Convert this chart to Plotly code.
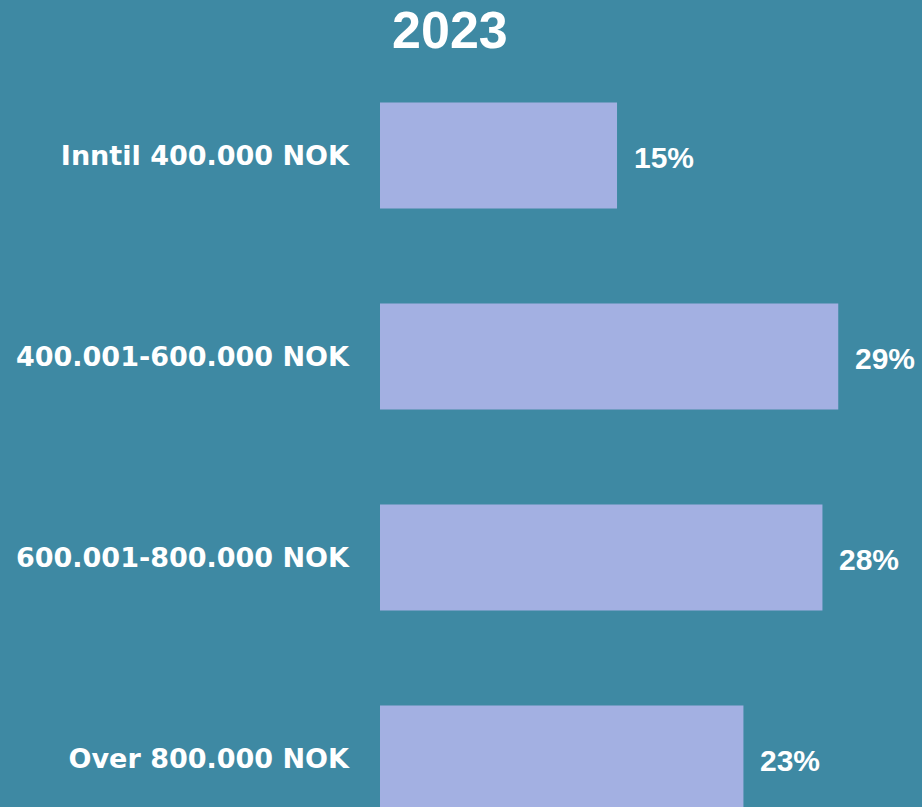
import plotly.graph_objects as go

# Income groups and share of respondents (2023)
categories = ["Inntil 400.000 NOK", "400.001-600.000 NOK",
              "600.001-800.000 NOK", "Over 800.000 NOK"]
shares = [15, 29, 28, 23]
labels = ["15%", "29%", "28%", "23%"]

BG = "#3E89A3"
BAR = "#A3B0E2"

fig = go.Figure()

fig.add_trace(go.Bar(
    x=shares,
    y=categories,
    orientation="h",
    marker=dict(color=BAR, line=dict(width=0)),
    hoverinfo="skip",
))

# value labels to the right of each bar
for cat, val, lab in zip(categories, shares, labels):
    fig.add_annotation(
        x=val, y=cat, text=lab,
        xanchor="left", yanchor="middle",
        xshift=15, yshift=-2,
        showarrow=False,
        font=dict(family="Liberation Sans", size=30, color="white", weight="bold"),
    )

fig.update_layout(
    width=922,
    height=807,
    paper_bgcolor=BG,
    plot_bgcolor=BG,
    margin=dict(l=380, r=0, t=55, b=0),
    bargap=0.473,
    showlegend=False,
    title=dict(
        text="<b>2023</b>",
        x=0.488, xref="container", xanchor="center",
        y=0.963, yref="container", yanchor="middle",
        font=dict(family="Liberation Sans", size=52, color="white"),
    ),
    xaxis=dict(
        range=[0, 34.3],
        visible=False,
    ),
    yaxis=dict(
        type="category",
        range=[3.241, -0.5],
        showgrid=False,
        zeroline=False,
        showline=False,
        ticks="",
        ticklabelstandoff=30,
        tickfont=dict(family="DejaVu Sans", size=27, color="white", weight="bold"),
    ),
)

# drop the default page margin so the figure fills the window
fig.write_html(
    "out.html",
    config={"displayModeBar": False},
    post_script="document.body.style.margin='0';",
)
